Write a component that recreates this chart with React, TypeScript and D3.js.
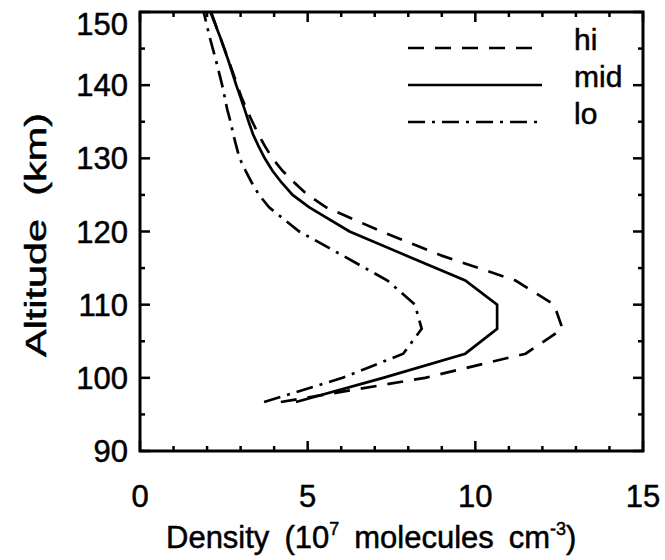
import React from "react";
import * as d3 from "d3";

const altitudes = [96.7, 100, 103.3, 106.7, 110, 113.3, 116.7, 120, 123.3, 125, 126.7, 128.3, 130, 131.7, 133.3, 135, 136.7, 138.3, 140, 143.3, 146.7, 150];
const hiDensity = [4.2, 8.5, 11.5, 12.6, 12.35, 11.2, 9.0, 7.2, 5.55, 5.0, 4.6, 4.25, 3.95, 3.72, 3.53, 3.35, 3.18, 3.03, 2.9, 2.65, 2.38, 2.12];
const midDensity = [4.65, 7.25, 9.7, 10.65, 10.65, 9.7, 7.95, 6.25, 5.05, 4.55, 4.22, 3.95, 3.72, 3.53, 3.37, 3.24, 3.12, 3.0, 2.87, 2.64, 2.38, 2.1];
const loDensity = [3.7, 6.04, 7.85, 8.4, 8.2, 7.38, 6.05, 4.75, 3.85, 3.55, 3.33, 3.15, 2.97, 2.87, 2.78, 2.7, 2.6, 2.53, 2.45, 2.27, 2.07, 1.9];

const seriesNames = ["hi", "mid", "lo"];
const xTickLabels = [0, 5, 10, 15];
const yTickLabels = [90, 100, 110, 120, 130, 140, 150];

const W = 665;
const H = 560;
const M = { left: 140, right: 643, top: 12, bottom: 451 };
const FONT = "'Liberation Sans', Arial, sans-serif";
const TXT = { fontFamily: FONT, fill: "#000", stroke: "#000", strokeWidth: 0.5 };

export default function App() {
  const x = d3.scaleLinear().domain([0, 15]).range([M.left, M.right]);
  const y = d3.scaleLinear().domain([90, 150]).range([M.bottom, M.top]);

  const line = d3
    .line<number>()
    .x((d) => x(d))
    .y((_, i) => y(altitudes[i]))
    .curve(d3.curveLinear);

  const series = [
    { name: seriesNames[0], values: hiDensity, dash: "16,11" },
    { name: seriesNames[1], values: midDensity, dash: "none" },
    { name: seriesNames[2], values: loDensity, dash: "17,7,3,7" },
  ];

  const xMinor = d3.range(0, 15.001, 1);
  const yMinor = d3.range(90, 150.001, 5);

  return (
    <svg width={W} height={H} style={{ display: "block", position: "absolute", left: 0, top: 0, background: "#fff" }}>
      <defs>
        <clipPath id="plotclip">
          <rect x={M.left} y={M.top} width={M.right - M.left} height={M.bottom - M.top} />
        </clipPath>
      </defs>
      <g clipPath="url(#plotclip)">
        {series.map((s) => (
          <path
            key={s.name}
            d={line(s.values) || ""}
            fill="none"
            stroke="#000"
            strokeWidth={2.7}
            strokeDasharray={s.dash}
            strokeLinejoin="miter"
          />
        ))}
      </g>
      {xMinor.map((v) => {
        const major = v % 5 === 0;
        const len = major ? 10 : 5;
        return (
          <g key={"xt" + v}>
            <line x1={x(v)} x2={x(v)} y1={M.bottom} y2={M.bottom - len} stroke="#000" strokeWidth={2.5} />
            <line x1={x(v)} x2={x(v)} y1={M.top} y2={M.top + len} stroke="#000" strokeWidth={2.5} />
          </g>
        );
      })}
      {yMinor.map((v) => {
        const major = v % 10 === 0;
        const len = major ? 10 : 5;
        return (
          <g key={"yt" + v}>
            <line x1={M.left} x2={M.left + len} y1={y(v)} y2={y(v)} stroke="#000" strokeWidth={2.5} />
            <line x1={M.right} x2={M.right - len} y1={y(v)} y2={y(v)} stroke="#000" strokeWidth={2.5} />
          </g>
        );
      })}
      <rect x={M.left} y={M.top} width={M.right - M.left} height={M.bottom - M.top} fill="none" stroke="#000" strokeWidth={3} />
      {xTickLabels.map((v) => (
        <text key={"xl" + v} x={x(v)} y={507} textAnchor="middle" fontSize={31} {...TXT}>
          {v}
        </text>
      ))}
      {yTickLabels.map((v) => (
        <text key={"yl" + v} x={128} y={Math.max(y(v), M.top + 12)} dy="0.36em" textAnchor="end" fontSize={31} {...TXT}>
          {v}
        </text>
      ))}
      <text x={166} y={548} fontSize={31} {...TXT}>
        <tspan>{"Density"}</tspan>
        <tspan dx={15}>{"(10"}</tspan>
        <tspan dy={-13} fontSize={18}>{"7"}</tspan>
        <tspan dy={13} dx={15}>{"molecules"}</tspan>
        <tspan dx={15}>{"cm"}</tspan>
        <tspan dy={-13} fontSize={18}>{"-3"}</tspan>
        <tspan dy={13}>{")"}</tspan>
      </text>
      <g transform="translate(46,0) rotate(-90)">
        <text
          x={-357}
          y={0}
          fontSize={29}
          textLength={244}
          lengthAdjust="spacingAndGlyphs"
          {...TXT}
          style={{ whiteSpace: "pre" }}
        >
          {"Altitude  (km)"}
        </text>
      </g>
      {series.map((s, i) => {
        const ly = 48 + i * 37;
        return (
          <g key={"lg" + s.name}>
            <line x1={408} x2={542} y1={ly} y2={ly} stroke="#000" strokeWidth={2.7} strokeDasharray={s.dash} />
            <text x={574} y={ly + 2} fontSize={30} {...TXT}>
              {s.name}
            </text>
          </g>
        );
      })}
    </svg>
  );
}
